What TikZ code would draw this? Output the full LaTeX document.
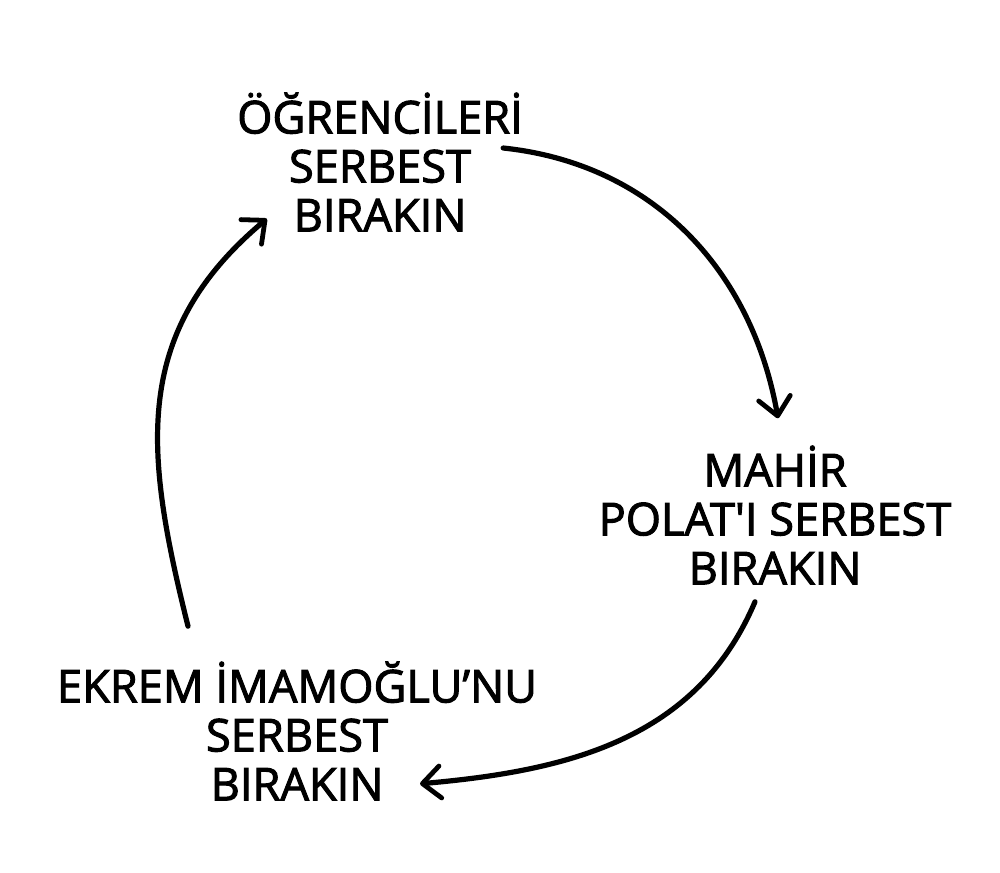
\documentclass[tikz,border=0pt]{standalone}
\usepackage{fontspec}
\setmainfont{Open Sans}[FakeBold=2.2]
\usetikzlibrary{arrows.meta,positioning}

\tikzset{
  say/.style={align=center, font=\fontsize{22.6}{24.5}\selectfont, inner sep=2pt},
  cycle arrow/.style={line width=2.6pt, line cap=round,
    -{Straight Barb[length=9pt,width=16pt,line width=2.4pt,round]}}
}

\begin{document}
\begin{tikzpicture}[x=0.5pt,y=0.5pt]
\useasboundingbox (0,0) rectangle (1000,-872);
% the three demands
\node[say] (ogr) at (380,-162) {ÖĞRENCİLERİ\\SERBEST\\BIRAKIN};
\node[say] (mahir) at (775,-515) {MAHİR\\POLAT\textquotesingle I SERBEST\\BIRAKIN};
\node[say] (ekrem) at (297,-731) {EKREM İMAMOĞLU’NU\\SERBEST\\BIRAKIN};
% the circle of arrows
\draw[cycle arrow] ([shift={(-24,14)}]ogr.east) to[out=-6,in=100] ([shift={(3,23)}]mahir.north);
\draw[cycle arrow] ([shift={(-20,-13)}]mahir.south) to[out=-113,in=5] ([shift={(123,21)}]ekrem.south);
\draw[cycle arrow] ([shift={(-109,31)}]ekrem.north) to[out=104,in=220,looseness=1.1] ([shift={(34,17)}]ogr.south west);
\end{tikzpicture}
\end{document}
